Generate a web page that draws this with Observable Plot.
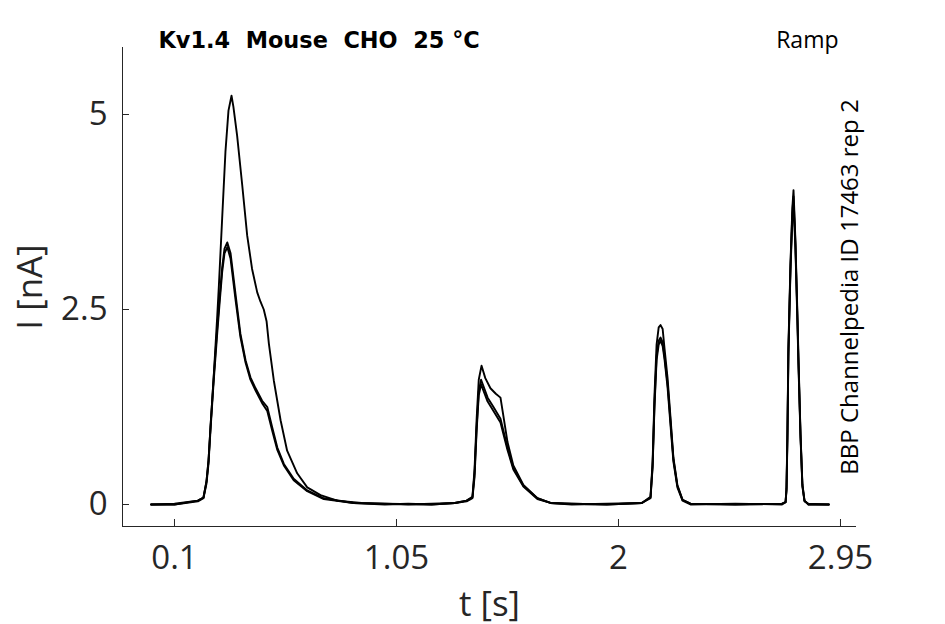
<!DOCTYPE html>
<html><head><meta charset="utf-8">
<script src="https://cdn.jsdelivr.net/npm/d3@7"></script>
<script src="https://cdn.jsdelivr.net/npm/@observablehq/plot@0.6"></script>
<style>
body{margin:0;background:#fff}
#chart svg{display:block}
svg text{white-space:pre}
</style>
</head><body><div id="chart"></div>
<script>
const xTicks = [0.1, 1.05, 2, 2.95];
const xTickLabels = ["0.1", "1.05", "2", "2.95"];
const yTicks = [0, 2.5, 5];
const yTickLabels = ["0", "2.5", "5"];
const title = "Kv1.4  Mouse  CHO  25 °C";
const protocol = "Ramp";
const sideNote = "BBP Channelpedia ID 17463 rep 2";
const xLabel = "t [s]";
const yLabel = "I [nA]";

// trace A (tall first response)
const tA = [0, 0.1, 0.2, 0.224, 0.237, 0.2455, 0.254, 0.267, 0.283, 0.29,
  0.304, 0.318, 0.331, 0.344, 0.352, 0.368, 0.39, 0.411, 0.432, 0.454,
  0.468, 0.482, 0.494, 0.504, 0.525, 0.554, 0.582, 0.625, 0.668, 0.725,
  0.796, 0.9, 1.0, 1.2, 1.3, 1.35, 1.375, 1.384, 1.393, 1.402,
  1.414, 1.43, 1.452, 1.475, 1.495, 1.504, 1.525, 1.55, 1.593, 1.653,
  1.709, 1.8, 1.95, 2.1, 2.137, 2.146, 2.154, 2.163, 2.172, 2.18,
  2.189, 2.197, 2.21, 2.223, 2.235, 2.252, 2.274, 2.308, 2.5, 2.7,
  2.715, 2.719, 2.723, 2.727, 2.736, 2.744, 2.749, 2.757, 2.766, 2.77,
  2.779, 2.787, 2.796, 2.813, 2.9];
const iA = [0, 0.0, 0.05, 0.09, 0.3, 0.56, 0.99, 1.6, 2.42, 2.81,
  3.67, 4.52, 5.05, 5.24, 5.1, 4.73, 4.09, 3.45, 3.02, 2.72,
  2.6, 2.5, 2.35, 2.06, 1.59, 1.08, 0.69, 0.4, 0.22, 0.12,
  0.05, 0.02, 0.01, 0.0, 0.02, 0.05, 0.1, 0.45, 1.1, 1.6,
  1.78, 1.62, 1.49, 1.42, 1.37, 1.2, 0.8, 0.5, 0.25, 0.08,
  0.02, 0.01, 0.0, 0.02, 0.1, 0.55, 1.4, 2.05, 2.27, 2.3,
  2.25, 2.0, 1.62, 1.1, 0.6, 0.25, 0.06, 0.01, 0.0, 0.01,
  0.03, 0.22, 0.95, 2.0, 3.1, 3.8, 4.03, 3.4, 2.4, 1.9,
  0.9, 0.26, 0.05, 0.0, 0.0];

// traces B and C (the overlapping bundle)
const tB = [0, 0.1, 0.2, 0.224, 0.237, 0.2455, 0.254, 0.267, 0.283, 0.293,
  0.304, 0.314, 0.326, 0.34, 0.361, 0.382, 0.404, 0.425, 0.447, 0.475,
  0.497, 0.518, 0.54, 0.568, 0.61, 0.668, 0.739, 0.866, 1.0, 1.1,
  1.2, 1.3, 1.35, 1.375, 1.384, 1.393, 1.402, 1.412, 1.44, 1.465,
  1.495, 1.525, 1.55, 1.593, 1.653, 1.709, 1.8, 1.95, 2.1, 2.137,
  2.146, 2.154, 2.163, 2.172, 2.18, 2.189, 2.197, 2.21, 2.223, 2.235,
  2.252, 2.274, 2.308, 2.5, 2.7, 2.715, 2.719, 2.723, 2.727, 2.736,
  2.744, 2.749, 2.757, 2.766, 2.77, 2.779, 2.787, 2.796, 2.813, 2.9];
const iB = [0, 0.01, 0.05, 0.09, 0.3, 0.56, 0.99, 1.6, 2.27, 2.65,
  3.04, 3.28, 3.36, 3.22, 2.7, 2.19, 1.85, 1.63, 1.49, 1.33,
  1.25, 0.99, 0.73, 0.52, 0.33, 0.18, 0.08, 0.02, 0.01, 0.0,
  0.01, 0.02, 0.05, 0.09, 0.4, 1.0, 1.45, 1.6, 1.37, 1.25,
  1.1, 0.73, 0.47, 0.24, 0.08, 0.02, 0.01, 0.0, 0.02, 0.09,
  0.5, 1.3, 1.9, 2.1, 2.14, 2.08, 1.9, 1.55, 1.05, 0.58,
  0.24, 0.06, 0.01, 0.0, 0.01, 0.03, 0.2, 0.9, 1.95, 3.05,
  3.75, 3.95, 3.35, 2.35, 1.85, 0.88, 0.25, 0.05, 0.0, 0.0];
const iC = [0, 0.0, 0.04, 0.08, 0.27, 0.52, 0.95, 1.55, 2.2, 2.58,
  2.98, 3.22, 3.3, 3.15, 2.63, 2.15, 1.82, 1.6, 1.46, 1.3,
  1.2, 0.95, 0.7, 0.5, 0.31, 0.17, 0.07, 0.02, 0.0, 0.01,
  0.0, 0.02, 0.04, 0.08, 0.35, 0.95, 1.4, 1.54, 1.32, 1.2,
  1.05, 0.7, 0.45, 0.23, 0.07, 0.02, 0.0, 0.01, 0.02, 0.08,
  0.48, 1.25, 1.85, 2.05, 2.1, 2.03, 1.86, 1.5, 1.0, 0.55,
  0.22, 0.05, 0.0, 0.01, 0.0, 0.03, 0.18, 0.85, 1.9, 3.0,
  3.65, 3.85, 3.3, 2.3, 1.8, 0.85, 0.23, 0.04, 0.01, 0.0];

const rows = [
  ...tA.map((t, k) => ({t, i: iA[k], trace: "A"})),
  ...tB.map((t, k) => ({t, i: iB[k], trace: "B"})),
  ...tB.map((t, k) => ({t, i: iC[k], trace: "C"}))
];

const W = 945, H = 624, mL = 122, mR = 89, mT = 47, mB = 98;
const xDomain = [-0.1225, 3.0185];
const yDomain = [-0.282, 5.859];
const ink = "#262626";
const sans = "'Open Sans', 'Noto Sans', sans-serif";

const chart = Plot.plot({
  width: W, height: H,
  marginLeft: mL, marginRight: mR, marginTop: mT, marginBottom: mB,
  style: {fontFamily: sans, background: "#fff", color: ink, overflow: "visible"},
  x: {domain: xDomain},
  y: {domain: yDomain},
  marks: [
    Plot.ruleX([xDomain[0]], {stroke: ink, strokeWidth: 1}),
    Plot.ruleY([yDomain[0]], {stroke: ink, strokeWidth: 1}),
    Plot.tickX(xTicks, {x: d => d, insetTop: (H - mT - mB) - 7, stroke: ink}),
    Plot.tickY(yTicks, {y: d => d, insetRight: (W - mL - mR) - 7, stroke: ink}),
    Plot.axisX(xTicks, {tickSize: 0, tickPadding: 19, fontSize: 33, fill: ink,
      tickFormat: d => xTickLabels[xTicks.indexOf(d)], label: null}),
    Plot.axisY(yTicks, {tickSize: 0, tickPadding: 15, fontSize: 33, fill: ink,
      tickFormat: d => yTickLabels[yTicks.indexOf(d)], label: null}),
    Plot.line(rows, {x: "t", y: "i", z: "trace", stroke: "#000", strokeWidth: 1.9,
      strokeLinejoin: "round", strokeLinecap: "round"}),
    Plot.text([xLabel], {frameAnchor: "bottom", dy: 78, fontSize: 35, fill: ink,
      textAnchor: "middle", lineAnchor: "middle", text: d => d}),
    Plot.text([yLabel], {frameAnchor: "left", dx: -92, rotate: -90, fontSize: 35, fill: ink,
      textAnchor: "middle", lineAnchor: "middle", text: d => d}),
    Plot.text([title], {frameAnchor: "top-left", dx: 36, dy: -7, textAnchor: "start", lineAnchor: "middle",
      fontWeight: "bold", fontSize: 22.4, fontFamily: "DejaVu Sans", fill: "#000", text: d => d}),
    Plot.text([protocol], {frameAnchor: "top-right", dx: -18, dy: -7, textAnchor: "end", lineAnchor: "middle",
      fontSize: 23, fill: "#000", text: d => d}),
    Plot.text([sideNote], {frameAnchor: "right", dx: -6, rotate: -90, fontSize: 24,
      textAnchor: "middle", lineAnchor: "middle", fill: "#000", text: d => d})
  ]
});
document.getElementById("chart").appendChild(chart);
</script>
</body></html>
